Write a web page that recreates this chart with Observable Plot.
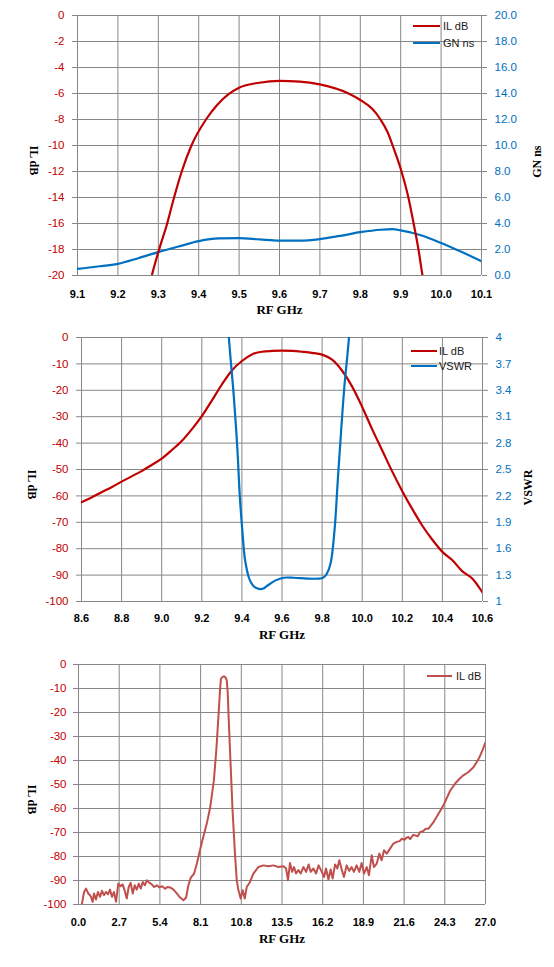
<!DOCTYPE html>
<html><head><meta charset="utf-8">
<script src="https://cdn.jsdelivr.net/npm/d3@7"></script>
<script src="https://cdn.jsdelivr.net/npm/@observablehq/plot@0.6"></script>
<style>
body{margin:0;background:#fff;}
.panel{position:relative;width:554px;}
.panel svg{display:block;}
.leg{position:absolute;font:11px "Liberation Sans",sans-serif;color:#1a1a1a;line-height:14px;height:14px;white-space:nowrap;}
.sw{position:absolute;height:2.4px;}
</style></head><body><div id="root"></div>
<script>
// ---------- Panel 1 data ----------
const xTicks1 = [9.1, 9.2, 9.3, 9.4, 9.5, 9.6, 9.7, 9.8, 9.9, 10.0, 10.1];
const ilTicks1 = [-20, -18, -16, -14, -12, -10, -8, -6, -4, -2, 0];
const gnTicks1 = [0, 2, 4, 6, 8, 10, 12, 14, 16, 18, 20];
const f1IL = [9.278, 9.284, 9.302, 9.322, 9.339, 9.358, 9.382, 9.418, 9.445, 9.474, 9.50, 9.55, 9.60, 9.65, 9.70, 9.771, 9.80, 9.83, 9.85, 9.868, 9.88, 9.902, 9.919, 9.932, 9.944, 9.954, 9.96];
const il1 = [-20.8, -20, -18, -16, -14, -12, -10, -8, -6.9, -6.05, -5.55, -5.17, -5.03, -5.08, -5.3, -6, -6.5, -7.2, -8, -9, -10, -12, -14, -16, -18, -20, -21];
const f1GN = [9.1, 9.15, 9.2, 9.25, 9.3, 9.35, 9.4, 9.45, 9.5, 9.55, 9.6, 9.65, 9.7, 9.75, 9.8, 9.85, 9.88, 9.9, 9.95, 10.0, 10.05, 10.1];
const gn1 = [0.51, 0.69, 0.9, 1.33, 1.8, 2.23, 2.64, 2.85, 2.87, 2.78, 2.69, 2.68, 2.8, 3.05, 3.33, 3.52, 3.56, 3.47, 3.1, 2.5, 1.82, 1.1];

// ---------- Panel 2 data ----------
const xTicks2 = [8.6, 8.8, 9.0, 9.2, 9.4, 9.6, 9.8, 10.0, 10.2, 10.4, 10.6];
const ilTicks2 = [-100, -90, -80, -70, -60, -50, -40, -30, -20, -10, 0];
const vsTicks2 = [1, 1.3, 1.6, 1.9, 2.2, 2.5, 2.8, 3.1, 3.4, 3.7, 4];
const f2IL = [8.6, 8.65, 8.7, 8.75, 8.8, 8.85, 8.9, 8.95, 9.0, 9.05, 9.1, 9.15, 9.2, 9.25, 9.3, 9.35, 9.4, 9.45, 9.5, 9.55, 9.6, 9.65, 9.7, 9.75, 9.8, 9.85, 9.9, 9.95, 10.0, 10.05, 10.1, 10.15, 10.2, 10.25, 10.3, 10.35, 10.4, 10.45, 10.5, 10.55, 10.6];
const il2 = [-62.4, -60.6, -58.6, -56.7, -54.6, -52.6, -50.6, -48.3, -45.9, -42.7, -39.2, -34.8, -29.8, -23.9, -17.8, -12.5, -8.9, -6.4, -5.4, -5.1, -5.0, -5.1, -5.4, -5.8, -6.5, -8.4, -12.6, -18.6, -26.3, -34.8, -42.8, -50.8, -58.2, -65.0, -71.3, -76.6, -81.2, -84.4, -88.6, -91.4, -96.6];
const f2VS = [9.325, 9.335, 9.360, 9.377, 9.390, 9.402, 9.414, 9.424, 9.435, 9.447, 9.460, 9.475, 9.493, 9.510, 9.527, 9.568, 9.609, 9.659, 9.726, 9.783, 9.805, 9.822, 9.842, 9.862, 9.878, 9.895, 9.911, 9.933, 9.945];
const vs2 = [4.4, 4.0, 3.32, 2.75, 2.18, 1.81, 1.50, 1.37, 1.27, 1.21, 1.17, 1.15, 1.14, 1.15, 1.18, 1.24, 1.27, 1.27, 1.26, 1.26, 1.27, 1.31, 1.43, 1.81, 2.37, 2.94, 3.44, 3.97, 4.4];

// ---------- Panel 3 data ----------
const xTicks3 = [0, 2.7, 5.4, 8.1, 10.8, 13.5, 16.2, 18.9, 21.6, 24.3, 27.0];
const ilTicks3 = [-100, -90, -80, -70, -60, -50, -40, -30, -20, -10, 0];
const f3 = [0.22,0.37,0.5,0.65,0.81,0.94,1.03,1.16,1.29,1.43,1.56,1.69,1.82,1.96,2.09,2.22,2.35,2.49,2.64,2.8,2.93,3.06,3.2,3.33,3.46,3.6,3.73,3.86,4.0,4.13,4.26,4.4,4.53,4.71,4.86,5.02,5.2,5.37,5.55,5.75,5.9,6.08,6.3,6.52,6.74,6.96,7.14,7.29,7.45,7.67,7.85,
  8.16,8.51,8.74,8.98,9.14,9.28,9.4,9.45,9.51,9.6,9.68,9.78,9.84,9.9,9.96,10.08,10.22,10.38,10.5,
  10.61,10.76,10.89,11.03,11.16,11.38,11.6,11.93,12.26,12.6,12.93,13.26,13.6,13.77,13.9,14.03,14.17,14.3,14.43,14.59,14.74,14.92,15.1,15.27,15.4,15.58,15.76,15.93,16.11,16.29,16.42,16.58,16.73,16.86,17.02,17.17,17.3,17.46,17.61,17.79,17.96,18.12,18.27,18.45,18.63,18.78,18.94,19.12,19.27,19.45,19.6,19.78,19.96,20.11,20.27,20.45,20.67,20.89,21.11,
  21.3,21.45,21.63,21.75,21.89,22.0,22.2,22.34,22.5,22.67,22.85,23.04,23.22,23.55,23.88,24.21,24.66,25.0,25.28,25.5,25.85,26.2,26.55,26.79,27.0];
const il3 = [-100,-94.8,-93.4,-95.4,-96.5,-98.9,-95.4,-97.9,-94.8,-96.8,-94.3,-96.1,-94.8,-95.7,-93.8,-96.8,-94.8,-98.9,-91.3,-92.4,-91.6,-94.1,-97.5,-92.7,-91,-95.4,-92,-93.8,-91.3,-93.4,-90.6,-92,-89.9,-91,-91.6,-92.7,-92,-92.9,-92.4,-93.4,-92.7,-92.9,-93.8,-95.4,-97.1,-98.2,-97.1,-92,-88.8,-87.1,-83,
  -74.7,-66.3,-59.4,-48.3,-35.9,-22,-9.6,-6,-5.4,-5.0,-5.0,-5.6,-6.8,-12,-22,-40,-60.8,-78.8,-90,
  -94.1,-97.5,-94.1,-97.5,-92.7,-90.6,-87.1,-84.4,-83.7,-84.1,-83.7,-84.4,-84.1,-85,-89.9,-82.7,-86.4,-84.4,-87.1,-85.7,-87.1,-84.4,-86.4,-83.3,-86.4,-85,-87.1,-83.7,-86,-88.5,-85,-89.6,-85.4,-89.2,-83.3,-85,-81.6,-85.4,-88.5,-83.7,-86,-84.4,-86.4,-83.7,-86.4,-82.7,-87.1,-84.4,-87.8,-79.5,-84.4,-83,-78.8,-81.6,-77.4,-78.8,-76.7,-74.6,-73.9,
  -73.6,-72.6,-73,-72.2,-71.9,-72.8,-71,-71.2,-71.6,-69.8,-69.5,-68.4,-68.4,-65.7,-62.2,-58.7,-52.5,-49.5,-47.6,-46.3,-44.9,-42.8,-39.3,-35.9,-32.4];

// ---------- styling ----------
const RED = "#C00000", BLUE = "#0070C0", RED3 = "#C0504D", GRID = "#878787";
const tickFont = {fontFamily: "Liberation Sans, Arial, sans-serif", fontSize: 11.5};
const xFont = {fontFamily: "Liberation Sans, Arial, sans-serif", fontSize: 11, fontWeight: "bold"};
const titleFont = {fontFamily: "Liberation Serif, Times New Roman, serif", fontSize: 12, fontWeight: "bold", fill: "#000"};
const xTitleFont = {...titleFont, fontSize: 13};
const fmt1 = d => d.toFixed(1);
const zip = (xs, ys) => xs.map((x, i) => ({x, y: ys[i]}));

function legend(panel, items) {
  for (const it of items) {
    const sw = document.createElement("div");
    sw.className = "sw";
    sw.style.left = it.x0 + "px";
    sw.style.width = (it.x1 - it.x0) + "px";
    sw.style.top = (it.y - 1.2) + "px";
    sw.style.background = it.color;
    panel.appendChild(sw);
    const t = document.createElement("div");
    t.className = "leg";
    t.style.left = it.tx + "px";
    t.style.top = (it.y - 7) + "px";
    t.textContent = it.label;
    panel.appendChild(t);
  }
}

function panel(svg, h) {
  const d = document.createElement("div");
  d.className = "panel";
  d.style.height = h + "px";
  d.appendChild(svg);
  document.getElementById("root").appendChild(d);
  return d;
}

// ---------- Panel 1 ----------
const gnMap = d3.scaleLinear([0, 20], [-20, 0]);
const p1 = Plot.plot({
  width: 554, height: 320, marginLeft: 77, marginRight: 73, marginTop: 15, marginBottom: 45,
  style: {background: "white", overflow: "visible"},
  x: {domain: [9.1, 10.1]},
  y: {domain: [-20, 0]},
  marks: [
    Plot.gridX(xTicks1, {stroke: GRID, strokeOpacity: 1}),
    Plot.gridY(ilTicks1, {stroke: GRID, strokeOpacity: 1}),
    Plot.axisY(ilTicks1, {anchor: "left", tickSize: 5, color: GRID, tickFormat: () => "", label: null}),
    Plot.axisY(ilTicks1, {anchor: "right", tickSize: 5, color: GRID, tickFormat: () => "", label: null}),
    Plot.axisY(ilTicks1, {anchor: "left", tickSize: 0, tickPadding: 13, color: RED, tickFormat: d => String(d), label: null, ...tickFont}),
    Plot.axisY(gnTicks1.map(gnMap), {anchor: "right", tickSize: 0, tickPadding: 13, color: BLUE, tickFormat: d => fmt1(gnMap.invert(d)), label: null, ...tickFont}),
    Plot.axisX(xTicks1, {tickSize: 0, tickPadding: 15, tickFormat: fmt1, label: null, ...xFont}),
    Plot.line(zip(f1GN, gn1), {x: "x", y: d => gnMap(d.y), stroke: BLUE, strokeWidth: 2.2, curve: "monotone-x", clip: true}),
    Plot.line(zip(f1IL, il1), {x: "x", y: "y", stroke: RED, strokeWidth: 2.2, curve: "monotone-x", clip: true}),
    Plot.text(["RF GHz"], {text: d => d, frameAnchor: "bottom", dy: 38, ...xTitleFont}),
    Plot.text(["IL dB"], {text: d => d, frameAnchor: "left", dx: -44, rotate: 90, ...titleFont}),
    Plot.text(["GN ns"], {text: d => d, frameAnchor: "right", dx: 56, rotate: -90, ...titleFont})
  ]
});
const d1 = panel(p1, 320);
legend(d1, [
  {label: "IL dB", color: RED, x0: 413, x1: 440, y: 26, tx: 443},
  {label: "GN ns", color: BLUE, x0: 413, x1: 440, y: 42.7, tx: 443}
]);

// ---------- Panel 2 ----------
const vsMap = d3.scaleLinear([1, 4], [-100, 0]);
const p2 = Plot.plot({
  width: 554, height: 330, marginLeft: 81, marginRight: 72, marginTop: 17, marginBottom: 49,
  style: {background: "white", overflow: "visible"},
  x: {domain: [8.6, 10.6]},
  y: {domain: [-100, 0]},
  marks: [
    Plot.gridX(xTicks2, {stroke: GRID, strokeOpacity: 1}),
    Plot.gridY(ilTicks2, {stroke: GRID, strokeOpacity: 1}),
    Plot.axisY(ilTicks2, {anchor: "left", tickSize: 5, color: GRID, tickFormat: () => "", label: null}),
    Plot.axisY(ilTicks2, {anchor: "right", tickSize: 5, color: GRID, tickFormat: () => "", label: null}),
    Plot.axisY(ilTicks2, {anchor: "left", tickSize: 0, tickPadding: 13, color: RED, tickFormat: d => String(d), label: null, ...tickFont}),
    Plot.axisY(vsTicks2.map(vsMap), {anchor: "right", tickSize: 0, tickPadding: 13, color: BLUE, tickFormat: d => String(Math.round(vsMap.invert(d) * 10) / 10), label: null, ...tickFont}),
    Plot.axisX(xTicks2, {tickSize: 0, tickPadding: 13, tickFormat: fmt1, label: null, ...xFont}),
    Plot.line(zip(f2IL, il2), {x: "x", y: "y", stroke: RED, strokeWidth: 2.2, curve: "monotone-x", clip: true}),
    Plot.line(zip(f2VS, vs2), {x: "x", y: d => vsMap(d.y), stroke: BLUE, strokeWidth: 2.2, curve: "catmull-rom", clip: true}),
    Plot.text(["RF GHz"], {text: d => d, frameAnchor: "bottom", dy: 37, ...xTitleFont}),
    Plot.text(["IL dB"], {text: d => d, frameAnchor: "left", dx: -50, rotate: 90, ...titleFont}),
    Plot.text(["VSWR"], {text: d => d, frameAnchor: "right", dx: 46, rotate: -90, ...titleFont})
  ]
});
const d2 = panel(p2, 330);
legend(d2, [
  {label: "IL dB", color: RED, x0: 411, x1: 437, y: 30.7, tx: 439},
  {label: "VSWR", color: BLUE, x0: 411, x1: 437, y: 45.7, tx: 439}
]);

// ---------- Panel 3 ----------
const p3 = Plot.plot({
  width: 554, height: 317, marginLeft: 78, marginRight: 69, marginTop: 14, marginBottom: 63,
  style: {background: "white", overflow: "visible"},
  x: {domain: [0, 27]},
  y: {domain: [-100, 0]},
  marks: [
    Plot.gridX(xTicks3, {stroke: GRID, strokeOpacity: 1}),
    Plot.gridY(ilTicks3, {stroke: GRID, strokeOpacity: 1}),
    Plot.axisY(ilTicks3, {anchor: "left", tickSize: 5, color: GRID, tickFormat: () => "", label: null}),
    Plot.axisY(ilTicks3, {anchor: "left", tickSize: 0, tickPadding: 12, color: RED, tickFormat: d => String(d), label: null, ...tickFont}),
    Plot.axisX(xTicks3, {tickSize: 0, tickPadding: 14, tickFormat: fmt1, label: null, ...xFont}),
    Plot.line(zip(f3, il3), {x: "x", y: "y", stroke: RED3, strokeWidth: 2, clip: true}),
    Plot.text(["RF GHz"], {text: d => d, frameAnchor: "bottom", dy: 38, ...xTitleFont}),
    Plot.text(["IL dB"], {text: d => d, frameAnchor: "left", dx: -47, rotate: 90, ...titleFont})
  ]
});
const d3p = panel(p3, 317);
legend(d3p, [
  {label: "IL dB", color: RED3, x0: 427, x1: 452, y: 26, tx: 456}
]);
</script>
</body></html>
